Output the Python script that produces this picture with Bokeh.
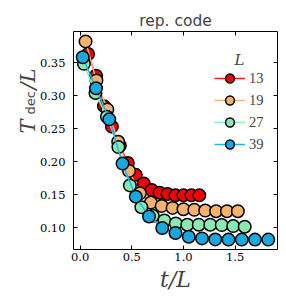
from bokeh.plotting import figure
from bokeh.layouts import row
from bokeh.models import (Range1d, FixedTicker, NumeralTickFormatter, LinearAxis,
                          Legend, LegendItem, Label)
from bokeh.embed import file_html
from bokeh.resources import INLINE

# ---- data ----
L_values = [13, 19, 27, 39]
t_13 = [1, 2, 3, 4, 5, 6, 7, 8, 9, 10, 11, 12, 13, 14, 15]
T_13 = [0.363, 0.330, 0.284, 0.253, 0.224, 0.198, 0.180, 0.167, 0.157, 0.153,
        0.151, 0.149, 0.149, 0.149, 0.149]
t_19 = [1, 3, 5, 7, 9, 11, 13, 15, 17, 19, 21, 23, 25, 27, 29]
T_19 = [0.382, 0.323, 0.279, 0.230, 0.186, 0.152, 0.138, 0.133, 0.130, 0.128,
        0.127, 0.126, 0.125, 0.125, 0.125]
t_27 = [1, 4, 7, 10, 13, 16, 19, 22, 25, 28, 31, 34, 37, 40, 43]
T_27 = [0.348, 0.304, 0.268, 0.222, 0.164, 0.131, 0.118, 0.111, 0.1065, 0.1045,
        0.1045, 0.1045, 0.104, 0.1025, 0.1015]
t_39 = [1, 6, 11, 16, 21, 26, 31, 36, 41, 46, 51, 56, 61, 66, 71]
T_39 = [0.358, 0.311, 0.264, 0.197, 0.147, 0.117, 0.0995, 0.092, 0.0864, 0.0838,
        0.0823, 0.082, 0.082, 0.082, 0.082]
x_ticks = [0.0, 0.5, 1.0, 1.5]
y_ticks = [0.10, 0.15, 0.20, 0.25, 0.30, 0.35]

series = [(L_values[0], t_13, T_13), (L_values[1], t_19, T_19),
          (L_values[2], t_27, T_27), (L_values[3], t_39, T_39)]
fill_colors = ["#f00000", "#f7b26b", "#8ce8b2", "#18a8e0"]
line_colors = ["#ff1a1a", "#f8b57a", "#86f0b4", "#1ab4ee"]

H = 300
LABEL_W = 36      # horizontal space the label strip takes in the row
LABEL_EXTRA = 14  # extra width of the strip, overlapped by the main plot's border

# ---- narrow panel that carries the composite y-axis label ----
lab = figure(width=LABEL_W + LABEL_EXTRA, height=H, output_backend="svg",
             toolbar_location=None, x_axis_location=None, y_axis_location=None,
             x_range=Range1d(0, 1), y_range=Range1d(0, 1), min_border=0)
lab.outline_line_color = None
lab.grid.visible = False
lab.background_fill_alpha = 0
lab.border_fill_alpha = 0
common = dict(x_units="screen", y_units="screen", angle=90, angle_units="deg",
              text_align="left", text_baseline="alphabetic")
lab.add_layout(Label(x=27, y=H - 184, text="T", text_font="DejaVu Serif",
                     text_font_style="italic", text_font_size="21px", **common))
lab.add_layout(Label(x=29.5, y=H - 165, text="dec", text_font="DejaVu Sans",
                     text_font_size="13px", **common))
lab.add_layout(Label(x=27, y=H - 140, text="/L", text_font="DejaVu Serif",
                     text_font_style="italic", text_font_size="21px", **common))

# ---- main plot ----
p = figure(width=282 - LABEL_W, height=H, output_backend="svg", toolbar_location=None,
           x_range=Range1d(-0.064, 1.91), y_range=Range1d(0.067, 0.397),
           min_border_left=71 - LABEL_W, min_border_right=5, min_border_top=31,
           min_border_bottom=51, title="rep. code")
p.styles = {"margin-left": f"-{LABEL_EXTRA}px"}
p.border_fill_alpha = 0
p.outline_line_color = None
p.xgrid.visible = False
p.ygrid.visible = False
p.title.align = "center"
p.title.text_font = "DejaVu Sans"
p.title.text_font_style = "normal"
p.title.text_font_size = "15.5px"
p.title.standoff = 3

TICK_FONT = "DejaVu Serif"


def style_axis(ax, show_labels, fmt):
    ax.axis_line_color = "black"
    ax.axis_line_width = 1
    ax.major_tick_in = 4
    ax.major_tick_out = 0
    ax.major_tick_line_color = "black"
    ax.minor_tick_line_color = None
    ax.formatter = NumeralTickFormatter(format=fmt)
    if show_labels:
        ax.major_label_text_font = TICK_FONT
        ax.major_label_text_font_size = "11.5px"
        ax.major_label_text_color = "black"
    else:
        # mirrored tick marks only: no tick labels are drawn
        ax.major_label_text_font_size = "0px"
        ax.major_label_text_color = None
        ax.major_label_standoff = 0


p.xaxis.ticker = FixedTicker(ticks=x_ticks)
p.yaxis.ticker = FixedTicker(ticks=y_ticks)
style_axis(p.xaxis[0], True, "0.0")
style_axis(p.yaxis[0], True, "0.00")
p.xaxis.major_label_standoff = 3
p.yaxis.major_label_standoff = 8
p.xaxis.axis_label = "t/L"
p.xaxis.axis_label_text_font = "DejaVu Serif"
p.xaxis.axis_label_text_font_style = "italic"
p.xaxis.axis_label_text_font_size = "22px"
p.xaxis.axis_label_standoff = 3

top_ax = LinearAxis(ticker=FixedTicker(ticks=x_ticks))
right_ax = LinearAxis(ticker=FixedTicker(ticks=y_ticks))
style_axis(top_ax, False, "0.0")
style_axis(right_ax, False, "0.00")
p.add_layout(top_ax, "above")
p.add_layout(right_ax, "right")

items = []
for (L, t, T), fc, lc in zip(series, fill_colors, line_colors):
    x = [ti / L for ti in t]
    lr = p.line(x, T, line_color=lc, line_width=1.5)
    sr = p.scatter(x, T, size=12.5, fill_color=fc, line_color="black", line_width=1.5)
    items.append(LegendItem(label=str(L), renderers=[lr, sr]))

legend = Legend(items=items, location=(141, 94), padding=0, margin=0,
                spacing=0, glyph_width=31, glyph_height=22, label_height=22,
                label_standoff=4, label_text_font="Liberation Serif",
                label_text_font_size="14.5px", border_line_color=None,
                background_fill_alpha=0)
p.add_layout(legend, "center")

# legend title
p.add_layout(Label(x=166, y=190, x_units="screen", y_units="screen", text="L",
                   text_font="DejaVu Serif", text_font_style="italic",
                   text_font_size="15px", text_align="center",
                   text_baseline="alphabetic"))

layout = row(lab, p, spacing=0)
open("out.html", "w").write(file_html(layout, INLINE))
